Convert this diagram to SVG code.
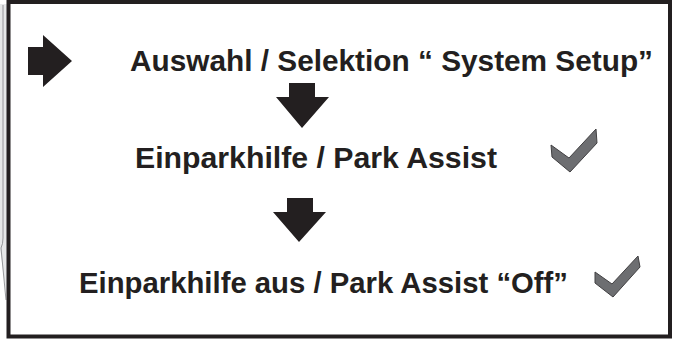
<svg xmlns="http://www.w3.org/2000/svg" width="674" height="339" viewBox="0 0 674 339">
<style>
.t{font-family:"Liberation Sans",Arial,Helvetica,sans-serif;font-weight:bold;font-size:29.5px;fill:#231f20}
.ar{fill:#231f20}
.ck{fill:#6d6e71;stroke:#414042;stroke-width:1;stroke-linejoin:miter}
</style>
<rect width="674" height="339" fill="#ffffff"/>
<g id="edge">
<polygon points="0,4 7,4 7,300 0,248" fill="#e6e7e8"/>
<path d="M3,5 L3,238 Q3,244 1,248 L6,300" fill="none" stroke="#808285" stroke-width="0.8"/>
</g>
<rect id="frame" x="8.5" y="2" width="661.5" height="334.5" fill="none" stroke="#231f20" stroke-width="4"/>
<g id="node-start">
<polygon class="ar" points="28,47 43,47 43,35 72,61 43,87 43,75 28,75"/>
<text class="t" x="130" y="71" textLength="523" lengthAdjust="spacingAndGlyphs">Auswahl / Selektion “ System Setup”</text>
</g>
<g id="node-park">
<text class="t" x="135" y="168" textLength="362" lengthAdjust="spacingAndGlyphs">Einparkhilfe / Park Assist</text>
<polygon class="ck" points="551,145 569,158 596,129 597,143 570,172 552,157"/>
</g>
<g id="node-off">
<text class="t" x="79" y="293" textLength="489" lengthAdjust="spacingAndGlyphs">Einparkhilfe aus / Park Assist “Off”</text>
<polygon class="ck" points="595,272 612,284 638,256 640,267 613,297 595,283"/>
</g>
<g id="connectors">
<polygon class="ar" points="289,83 315,83 315,97 329,97 302,128 276,97 289,97"/>
<polygon class="ar" points="287,198 313,198 313,212 326,212 299,242 273,212 287,212"/>
</g>
</svg>
